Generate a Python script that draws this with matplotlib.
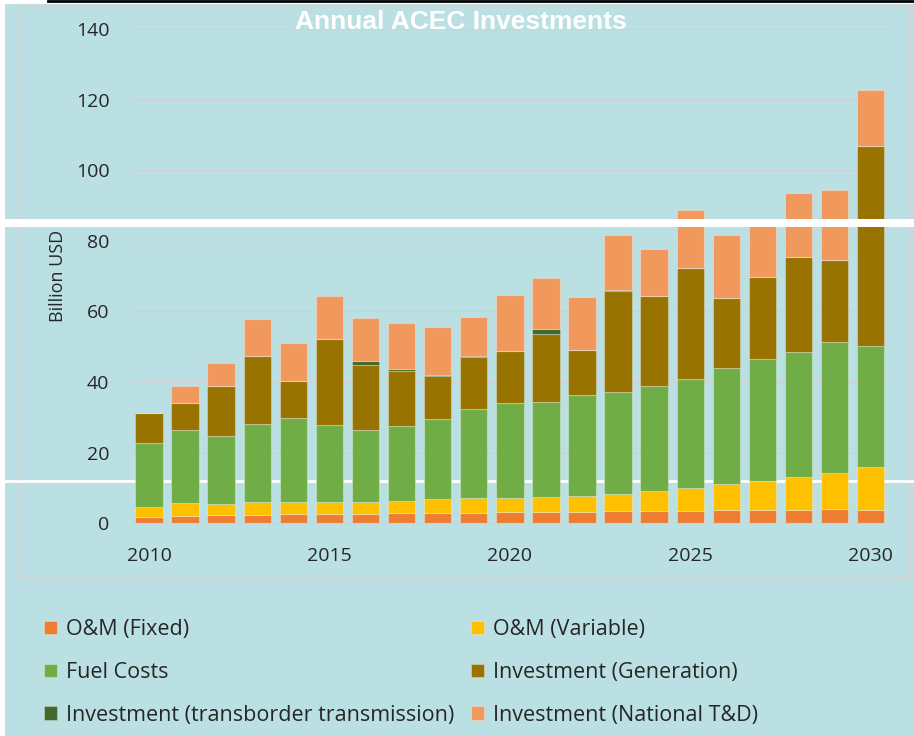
import numpy as np
import matplotlib.pyplot as plt
from matplotlib.patches import Rectangle
from matplotlib.lines import Line2D

plt.rcParams['font.family'] = ['Open Sans', 'DejaVu Sans']

# data (billion USD, stacked segments)
years = list(range(2010, 2031))
om_fixed = [1.9, 2.2, 2.4, 2.4, 2.5, 2.5, 2.6, 3.0, 3.0, 3.0, 3.1,
            3.1, 3.1, 3.5, 3.5, 3.5, 3.8, 3.8, 3.8, 4.0, 3.8]
om_variable = [2.8, 3.5, 3.1, 3.5, 3.6, 3.6, 3.5, 3.4, 3.8, 4.3, 4.2,
               4.4, 4.6, 4.7, 5.7, 6.6, 7.2, 8.3, 9.4, 10.2, 12.1]
fuel_costs = [18.1, 20.7, 19.3, 22.2, 23.6, 21.7, 20.3, 21.2, 22.7, 25.0, 26.7,
              26.9, 28.6, 29.1, 29.7, 30.9, 32.9, 34.3, 35.4, 37.2, 34.3]
inv_generation = [8.3, 7.6, 14.1, 19.4, 10.5, 24.3, 18.4, 15.6, 12.2, 14.9, 14.8,
                  19.2, 12.8, 28.6, 25.5, 31.3, 20.0, 23.3, 26.9, 23.2, 56.8]
inv_transborder = [0, 0, 0, 0, 0, 0, 1.2, 0.4, 0.2, 0.2, 0,
                   1.4, 0, 0.3, 0, 0, 0, 0, 0, 0, 0]
inv_national_td = [0, 4.9, 6.6, 10.3, 10.8, 12.3, 12.2, 13.2, 13.6, 11.0, 16.0,
                   14.4, 14.9, 15.5, 13.3, 16.3, 17.8, 16.3, 18.0, 19.7, 15.8]

series = [
    ("O&M (Fixed)", om_fixed, "#ED7D31"),
    ("O&M (Variable)", om_variable, "#FFC000"),
    ("Fuel Costs", fuel_costs, "#70AD47"),
    ("Investment (Generation)", inv_generation, "#997300"),
    ("Investment (transborder transmission)", inv_transborder, "#43682B"),
    ("Investment (National T&D)", inv_national_td, "#F1985C"),
]

BG = "#BBE0E3"
TXT = "#262626"
W, H = 914, 736

fig = plt.figure(figsize=(W / 100, H / 100), dpi=100, facecolor="white")

# background panel, border and the stray lines of the original screenshot
fig.add_artist(Rectangle((5 / W, 0), 1, 1 - 4 / H, transform=fig.transFigure,
                         facecolor=BG, edgecolor="none", zorder=-3))
fig.add_artist(Rectangle((18 / W, 1 - 578 / H), (910 - 18) / W, (578 - 6) / H,
                         transform=fig.transFigure, fill=False,
                         edgecolor="#D3D3D3", lw=1, zorder=-2))
fig.add_artist(Line2D([0, 1], [1 - 481 / H] * 2, transform=fig.transFigure,
                      color="white", lw=2, zorder=-1))
fig.add_artist(Line2D([48 / W, 1], [1 - 1 / H] * 2, transform=fig.transFigure,
                      color="black", lw=2, zorder=5))
fig.add_artist(Rectangle((0, 1 - 227 / H), 1, 8 / H, transform=fig.transFigure,
                         facecolor="white", edgecolor="none", zorder=5))

ax = fig.add_axes([131.7 / W, 1 - 523.3 / H, (888 - 131.7) / W, (523.3 - 29) / H])
ax.set_facecolor("none")

x = np.array(years)
bottom = np.zeros(len(years))
handles = {}
for label, vals, color in series:
    vals = np.array(vals, dtype=float)
    b = ax.bar(x, vals, width=0.76, bottom=bottom, color=color,
               edgecolor=(1, 1, 1, 0.3), linewidth=0.8, label=label, zorder=2)
    handles[label] = b
    bottom += vals

ax.set_xlim(2009.52, 2030.48)
ax.set_ylim(0, 140)
ax.set_yticks(range(0, 141, 20))
ax.set_xticks(range(2010, 2031, 5))
ax.grid(axis="y", color="#D0D0D0", lw=0.8, zorder=0)
ax.set_axisbelow(True)
for s in ["top", "right", "left"]:
    ax.spines[s].set_visible(False)
ax.spines["bottom"].set_color("#D0D0D0")
ax.tick_params(axis="both", length=0, labelsize=14, labelcolor=TXT)
ax.tick_params(axis="y", pad=16)
ax.tick_params(axis="x", pad=17)

fig.text(461 / W, 1 - 22 / H, "Annual ACEC Investments", ha="center", va="center",
         color="white", fontweight="bold", fontsize=19, family="Liberation Sans")
fig.text(58 / W, 1 - 276 / H, "Billion USD", rotation=90, ha="center", va="center",
         fontsize=13, color=TXT)

order = ["O&M (Fixed)", "Fuel Costs", "Investment (transborder transmission)",
         "O&M (Variable)", "Investment (Generation)", "Investment (National T&D)"]
fig.legend([handles[k] for k in order], order, ncol=2, loc="upper left",
           bbox_to_anchor=(44 / W, 1 - 619 / H), frameon=False, fontsize=15.5,
           labelcolor=TXT, handlelength=0.6, handleheight=0.6, handletextpad=0.4,
           labelspacing=1.02, columnspacing=0.8, borderaxespad=0, borderpad=0)

fig.savefig("out.png", dpi=100, facecolor=fig.get_facecolor())
